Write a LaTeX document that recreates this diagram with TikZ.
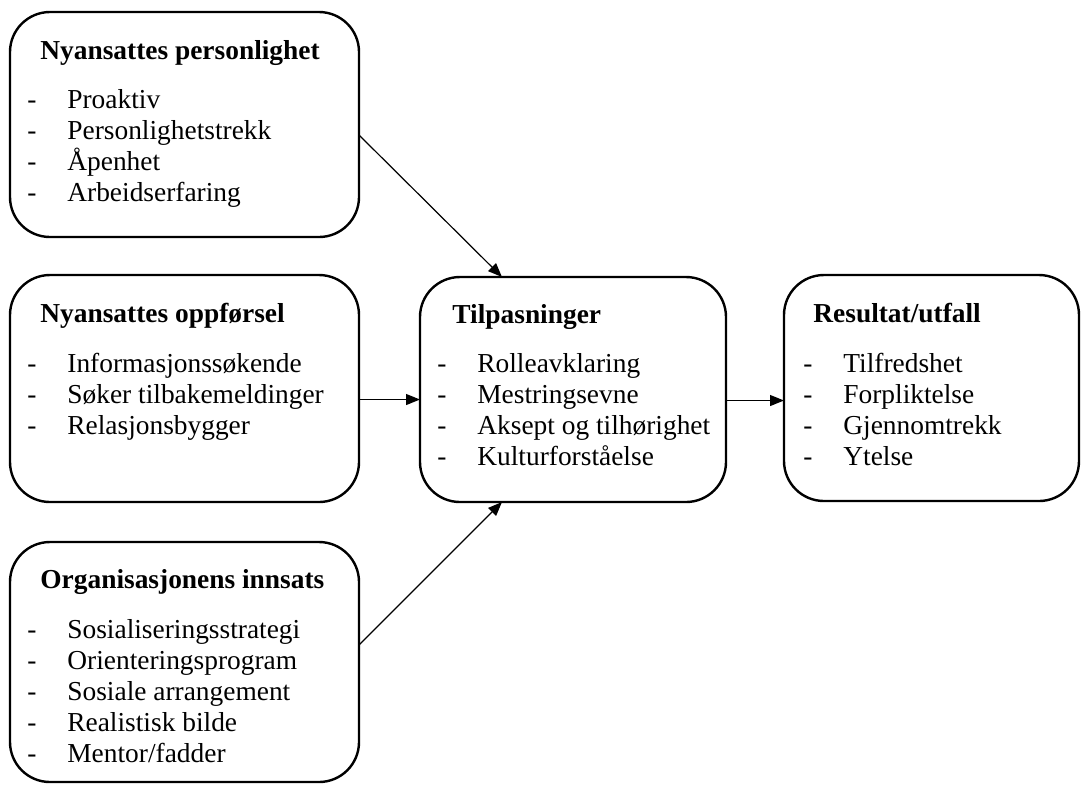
\documentclass[tikz,border=0pt]{standalone}
\usepackage{fontspec}
\setmainfont{Liberation Serif}
\usetikzlibrary{arrows.meta}
\newcommand{\punkter}[1]{\begin{tabular}[t]{@{}p{20pt}@{}l@{}}#1\end{tabular}}

\begin{document}
\begin{tikzpicture}[
    x=0.5pt, y=-0.5pt, >={Triangle[length=7pt,width=5.5pt]},
    boks/.style={draw, line width=1.2pt, rounded corners=20pt, inner sep=0pt, outer sep=0pt, minimum width=174.5pt, minimum height=112.5pt},
    tittel/.style={anchor=base west, inner sep=0pt, font=\fontsize{13.7}{15.5}\selectfont\bfseries},
    liste/.style={anchor=base west, inner sep=0pt, font=\fontsize{13.7}{15.5}\selectfont},
    pil/.style={->, line width=0.6pt}
]
\useasboundingbox (0,0) rectangle (1082,784);
% Define boxes
\node (pers) [boks] at (184.5,124.5) {};
\node (oppf) [boks, minimum height=113.5pt] at (184.5,388.5) {};
\node (inns) [boks, minimum height=120pt] at (184.5,662) {};
\node (tilp) [boks, minimum width=153pt] at (573,389.5) {};
\node (res) [boks, minimum width=147.5pt, minimum height=113pt] at (931.5,388) {};

% Texts
\node (pers_t) [tittel] at ([xshift=15pt,yshift=-23.5pt]pers.north west) {Nyansattes personlighet};
\node (pers_l) [liste] at ([xshift=8.5pt,yshift=-48pt]pers.north west) {\punkter{- & Proaktiv\\ - & Personlighetstrekk\\ - & Åpenhet\\ - & Arbeidserfaring}};

\node (oppf_t) [tittel] at ([xshift=15pt,yshift=-23.5pt]oppf.north west) {Nyansattes oppførsel};
\node (oppf_l) [liste] at ([xshift=8.5pt,yshift=-48.5pt]oppf.north west) {\punkter{- & Informasjonssøkende\\ - & Søker tilbakemeldinger\\ - & Relasjonsbygger}};

\node (inns_t) [tittel] at ([xshift=15pt,yshift=-23pt]inns.north west) {Organisasjonens innsats};
\node (inns_l) [liste] at ([xshift=8.5pt,yshift=-48pt]inns.north west) {\punkter{- & Sosialiseringsstrategi\\ - & Orienteringsprogram\\ - & Sosiale arrangement\\ - & Realistisk bilde\\ - & Mentor/fadder}};

\node (tilp_t) [tittel] at ([xshift=16pt,yshift=-23pt]tilp.north west) {Tilpasninger};
\node (tilp_l) [liste] at ([xshift=8.5pt,yshift=-47.5pt]tilp.north west) {\punkter{- & Rolleavklaring\\ - & Mestringsevne\\ - & Aksept og tilhørighet\\ - & Kulturforståelse}};

\node (res_t) [tittel] at ([xshift=14.5pt,yshift=-23.5pt]res.north west) {Resultat/utfall};
\node (res_l) [liste] at ([xshift=9.5pt,yshift=-48.5pt]res.north west) {\punkter{- & Tilfredshet\\ - & Forpliktelse\\ - & Gjennomtrekk\\ - & Ytelse}};

% Draw arrows
\draw[pil] ([yshift=-5.25pt]pers.east) -- ([xshift=-35.5pt]tilp.north);
\draw[pil] ([yshift=-5.5pt]oppf.east) -- ([yshift=-5.5pt]oppf.east -| tilp.west);
\draw[pil] ([yshift=8.5pt]inns.east) -- ([xshift=-35.5pt]tilp.south);
\draw[pil] ([yshift=-5.5pt]tilp.east) -- ([yshift=-5.5pt]tilp.east -| res.west);
\end{tikzpicture}
\end{document}
